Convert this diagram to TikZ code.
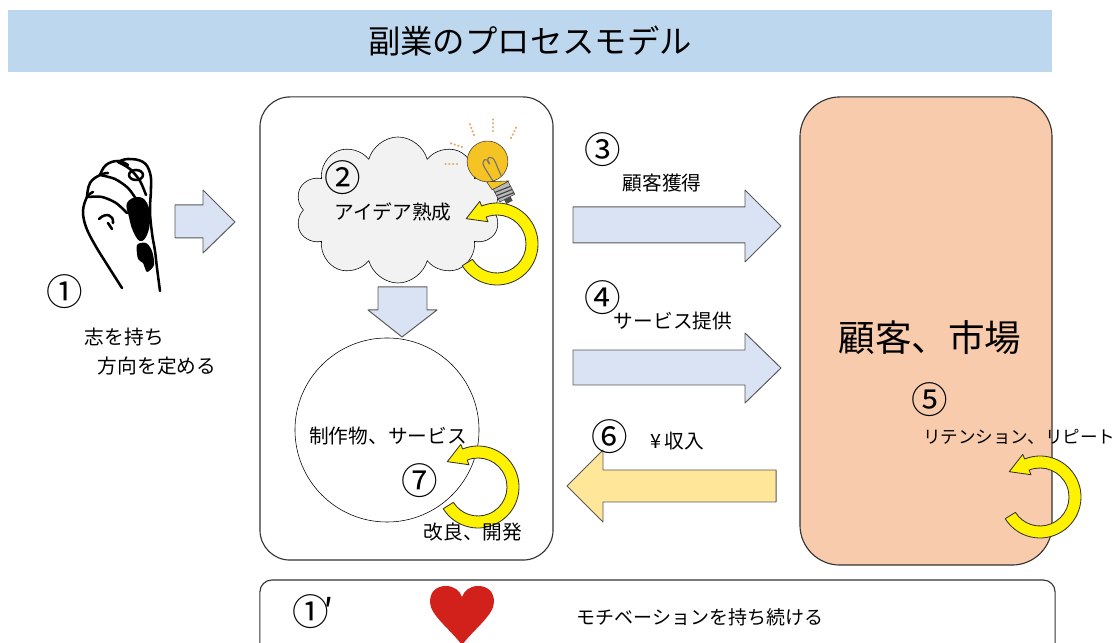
\documentclass[tikz,border=0pt]{standalone}
\usepackage{fontspec}
\setmainfont{Noto Sans CJK JP}
\usetikzlibrary{calc,shapes.symbols}

\definecolor{titleblue}{HTML}{BDD7EE}
\definecolor{arrowblue}{HTML}{DAE3F3}
\definecolor{arrowgold}{HTML}{FFE699}
\definecolor{peach}{HTML}{F8CBAD}
\definecolor{cloudgray}{HTML}{F2F2F2}
\definecolor{bulbyellow}{HTML}{F6C324}
\definecolor{raycolor}{HTML}{E6A96A}
\definecolor{heartred}{HTML}{D2201A}

% yellow turning arrow round a centre coordinate
\newcommand{\turnarrow}[1]{%
  \draw[turn] ($(#1)+(-148:41)$) arc[start angle=-148,end angle=112,radius=41]
    -- ($(#1)+(112:46)$) -- ($(#1)+(112:35)+(202:19)$) -- ($(#1)+(112:24)$)
    -- ($(#1)+(112:29)$) arc[start angle=112,end angle=-148,radius=29] -- cycle;}

\begin{document}
\begin{tikzpicture}[x=0.025cm,y=0.025cm,line join=round,
    lbl/.style={font=\fontsize{14}{16}\selectfont},
    num/.style={font=\fontsize{26}{28}\selectfont},
    blockarrow/.style={draw=black!65,line width=0.7pt},
    turn/.style={fill=yellow,draw=black!80,line width=0.6pt},
    panel/.style={draw=black!80,line width=0.8pt,inner sep=0pt},
    fistline/.style={line width=1.8pt,line cap=round},
    ray/.style={raycolor,line width=1.7pt,line cap=round,dash pattern=on 0.1pt off 2.6pt}]
\useasboundingbox (0,0) rectangle (1119,643);

% title bar
\node[fill=titleblue,minimum width=26.1cm,minimum height=1.55cm,
      font=\fontsize{23}{26}\selectfont] (title) at (530,602) {副業のプロセスモデル};

% clenched fist
\fill plot[smooth cycle,tension=0.7] coordinates {(127,440) (138,446) (147,440) (150,424)
  (147,408) (140,402) (133,412) (129,426)};
\fill plot[smooth cycle,tension=0.5] coordinates {(137,398) (146,400) (152,392) (154,378)
  (147,371) (143,380) (138,384)};
\draw[fistline] plot[smooth,tension=0.6] coordinates {(122,355) (108,377) (95,398)
  (86,416) (83,432) (87,446) (93,451)};
\draw[fistline] plot[smooth,tension=0.7] coordinates {(87,446) (90,460) (100,468) (108,470)};
\draw[fistline] plot[smooth,tension=0.7] coordinates {(100,468) (106,478) (118,482) (128,478)};
\draw[fistline] plot[smooth,tension=0.7] coordinates {(118,481) (128,484) (143,481) (150,470)
  (151,455) (150,432) (152,410) (155,392) (157,375) (160,352)};
\draw[fistline] plot[smooth] coordinates {(87,446) (102,446) (116,440) (127,430)};
\draw[fistline] plot[smooth] coordinates {(100,468) (115,464) (128,455) (136,444)};
\draw[fistline] plot[smooth] coordinates {(118,481) (130,474) (140,462) (146,448)};
\draw[fistline] (136,468) ellipse (7 and 5);
\draw[fistline] (99,424) .. controls (106,431) and (114,428) .. (113,420);
\draw[fistline] (108,420) -- (112,414);

\node[num] (n1) at (65,351) {①};
\node[lbl,anchor=west] (aim1) at (80,306) {志を持ち};
\node[lbl,anchor=west] (aim2) at (93,277) {方向を定める};

\draw[blockarrow,fill=arrowblue] (175,405) -- (203,405) -- (203,390) -- (235,421)
  -- (203,453) -- (203,438) -- (175,438) -- cycle;

% work panel
\node[panel,rounded corners=0.75cm,minimum width=7.325cm,minimum height=11.575cm]
  (work) at (406.5,314.5) {};

\node[cloud,cloud puffs=10,aspect=1.4,draw,fill=cloudgray,inner sep=0pt,
      minimum width=5.125cm,minimum height=3.65cm] (cloud) at (398,433) {};
\node[num] (n2) at (343,465) {②};
\node[lbl] (idea) at (393,431) {アイデア熟成};

% light bulb
\draw[ray] (474,508) -- (469,521);
\draw[ray] (493,512) -- (493,525);
\draw[ray] (511,505) -- (517,517);
\draw[ray] (462,496) -- (450,500);
\draw[ray] (457,479) -- (445,479);
\begin{scope}[shift={(489,480)},rotate=27.5,scale=1.2]
  \draw[black!75,fill=gray!55] (-7,-21) rectangle (7,-33);
  \foreach \s in {-24,-27,-30}
    \draw[black!75,line width=0.8pt] (-7,\s) -- (7,\s-1.5);
  \fill[black!70] (-3,-33) rectangle (3,-37);
  \draw[black!75,fill=bulbyellow] (-8,-21) -- (-9,-13) arc[start angle=-120,end angle=240,radius=17] -- (8,-21) -- cycle;
  \draw[black!55,line width=0.8pt] (-4,-15) -- (-5,-2) .. controls (-6,6) and (2,6) .. (0,-1)
    .. controls (-2,6) and (6,6) .. (5,-2) -- (4,-15);
\end{scope}

\coordinate (ideaLoop) at (497,399);
\turnarrow{ideaLoop}

\draw[blockarrow,fill=arrowblue] (378,356) -- (427,356) -- (427,333) -- (437,333)
  -- (402,306) -- (368,333) -- (378,333) -- cycle;

\node[circle,draw,fill=white,minimum size=4.6cm] (product) at (387,213) {};
\node[lbl] (prodtext) at (388,207) {制作物、サービス};
\node[num] (n7) at (420,162) {⑦};
\coordinate (prodLoop) at (478,156);
\turnarrow{prodLoop}
\node[lbl] (improve) at (473,111) {改良、開発};

% flows to and from the market
\draw[blockarrow,fill=arrowblue] (573,400) -- (745,400) -- (745,381) -- (781,417)
  -- (745,453) -- (745,436) -- (573,436) -- cycle;
\node[num] (n3) at (603,493) {③};
\node[lbl] (acquire) at (662,460) {顧客獲得};

\draw[blockarrow,fill=arrowblue] (573,258) -- (745,258) -- (745,240) -- (781,275)
  -- (745,310) -- (745,293) -- (573,293) -- cycle;
\node[num] (n4) at (603,345) {④};
\node[lbl] (provide) at (673,322) {サービス提供};

\draw[blockarrow,fill=arrowgold] (776,141) -- (603,141) -- (603,121) -- (567,157)
  -- (603,193) -- (603,173) -- (776,173) -- cycle;
\node[num] (n6) at (610,206) {⑥};
\node[lbl] (income) at (677,202) {¥\,収入};

% market panel
\node[panel,fill=peach,rounded corners=1cm,minimum width=6.3cm,minimum height=11.7cm]
  (market) at (926,312) {};
\node[font=\fontsize{26}{28}\selectfont] (markettext) at (930,305) {顧客、市場};
\node[num] (n5) at (930,243) {⑤};
\coordinate (marketLoop) at (1040,146);
\turnarrow{marketLoop}
\node[font=\fontsize{12.5}{14}\selectfont,anchor=east,inner sep=1pt] (retain) at (1117,206)
  {リテンション、リピート};

% motivation strip
\node[panel,rounded corners=0.3cm,minimum width=19.875cm,minimum height=2.075cm]
  (motive) at (657.5,21.5) {};
\node[num] (n1b) at (313,31) {①\kern-0.15em′};
\fill[heartred] (462,-2) .. controls (450,14) and (430,28) .. (430,41)
  .. controls (430,52) and (437,57) .. (446,57) .. controls (454,57) and (460,52) .. (462,46)
  .. controls (464,52) and (470,57) .. (478,57) .. controls (487,57) and (494,52) .. (494,41)
  .. controls (494,28) and (474,14) .. (462,-2) -- cycle;
\node[font=\fontsize{13.5}{15}\selectfont] (keepup) at (700,26) {モチベーションを持ち続ける};
\end{tikzpicture}
\end{document}
